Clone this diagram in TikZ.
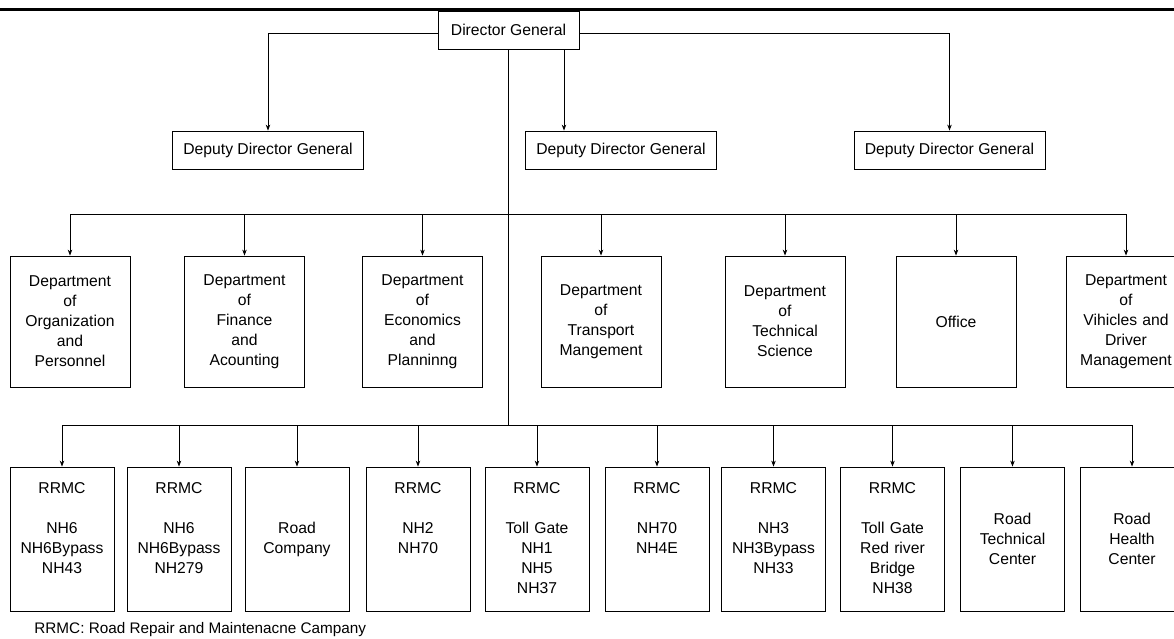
\documentclass[tikz,border=0pt]{standalone}
\usepackage{fontspec}
\setmainfont{Liberation Sans}
\usetikzlibrary{arrows.meta}

\tikzset{
  box/.style={draw, line width=0.8pt, align=center, inner sep=3pt, font=\fontsize{15.7}{20}\selectfont},
  chief/.style={box, minimum width=141pt, minimum height=38pt},
  deputy/.style={box, minimum width=191pt, minimum height=38pt},
  dept/.style={box, text width=114pt, minimum height=131pt},
  unit/.style={box, text width=98pt, minimum height=144pt},
  rrmc/.style={unit, text height=23.5pt, text depth=114.5pt},
  note/.style={inner sep=3pt, font=\fontsize{15.3}{20}\selectfont},
}

\begin{document}
\begin{tikzpicture}[x=1pt, y=-1pt, >={Stealth[length=6pt,width=4.5pt]}, line width=0.8pt]
    \clip (0,0) rectangle (1174,639);
    \draw[line width=3pt] (0,10) -- (1174,10);

    % Director and deputies
    \node[chief] (dg) at (508.5,30) {Director General};
    \node[deputy] (dd1) at (268,150) {Deputy Director General};
    \node[deputy] (dd2) at (621,150) {Deputy Director General};
    \node[deputy] (dd3) at (949.5,150) {Deputy Director General};

    % Departments
    \node[dept] (d1) at (70,321.5) {Department\\of\\Organization\\and\\Personnel};
    \node[dept] (d2) at (244.5,321.5) {Department\\of\\Finance\\and\\Acounting};
    \node[dept] (d3) at (422.5,321.5) {Department\\of\\Economics\\and\\Planninng};
    \node[dept] (d4) at (601,321.5) {Department\\of\\Transport\\Mangement};
    \node[dept] (d5) at (785,321.5) {Department\\of\\Technical\\Science};
    \node[dept] (d6) at (956,321.5) {Office};
    \node[dept] (d7) at (1126,321.5) {Department\\of\\Vihicles and\\Driver\\Management};

    % Companies and centers
    \node[rrmc] (u1) at (62,539) {RRMC\\[20pt]NH6\\NH6Bypass\\NH43};
    \node[rrmc] (u2) at (179,539) {RRMC\\[20pt]NH6\\NH6Bypass\\NH279};
    \node[unit] (u3) at (297,539) {Road\\Company};
    \node[rrmc] (u4) at (418,539) {RRMC\\[20pt]NH2\\NH70};
    \node[rrmc] (u5) at (537,539) {RRMC\\[20pt]Toll Gate\\NH1\\NH5\\NH37};
    \node[rrmc] (u6) at (657,539) {RRMC\\[20pt]NH70\\NH4E};
    \node[rrmc] (u7) at (773.5,539) {RRMC\\[20pt]NH3\\NH3Bypass\\NH33};
    \node[rrmc] (u8) at (892.5,539) {RRMC\\[20pt]Toll Gate\\Red river\\Bridge\\NH38};
    \node[unit] (u9) at (1012.5,539) {Road\\Technical\\Center};
    \node[unit] (u10) at (1132,539) {Road\\Health\\Center};

    \node[note, anchor=west] (key) at (31,630) {RRMC: Road Repair and Maintenacne Campany};

    % Bus levels
    \coordinate (b1) at (508.5,214);
    \coordinate (b2) at (508.5,425);

    % Connectors
    \draw[->] ([yshift=-3pt]dg.west) -| (dd1.north);
    \draw[->] ([yshift=-3pt]dg.east) -| (dd3.north);
    \draw[->] ([xshift=55.5pt]dg.south) -- ([xshift=55.5pt]dg.south |- dd2.north);
    \draw (dg.south) -- (b2);
    \draw (d1.north |- b1) -- (d7.north |- b1);
    \foreach \i in {1,...,7}
        \draw[->] (d\i.north |- b1) -- (d\i.north);
    \draw (u1.north |- b2) -- (u10.north |- b2);
    \foreach \i in {1,...,10}
        \draw[->] (u\i.north |- b2) -- (u\i.north);
\end{tikzpicture}
\end{document}
